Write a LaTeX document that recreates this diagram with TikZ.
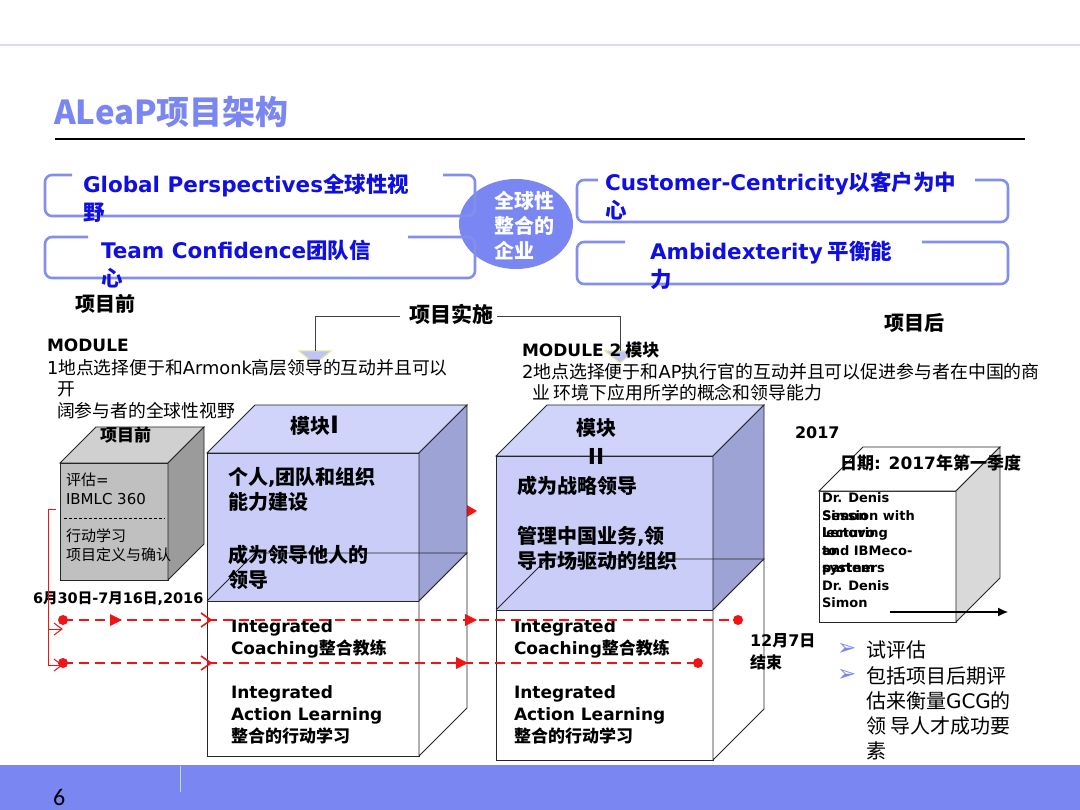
\documentclass[tikz,border=0pt]{standalone}
\usepackage{fontspec}
\setmainfont{Noto Sans CJK SC}
\newfontfamily\latf{DejaVu Sans}
\newfontfamily\pagef{Carlito}
\newcommand\latn[1]{{\latf #1}}
\newcommand\fsz[2]{\fontsize{#1}{#2}\selectfont}
\usetikzlibrary{arrows.meta,shapes.geometric}
\definecolor{peri}{RGB}{122,134,242}
\definecolor{boxline}{RGB}{132,142,236}
\definecolor{txtblue}{RGB}{15,15,225}
\definecolor{topline}{RGB}{218,218,248}
\definecolor{cubefront}{RGB}{201,205,248}
\definecolor{cubetop}{RGB}{208,211,250}
\definecolor{cuberight}{RGB}{158,163,214}
\definecolor{grayfront}{RGB}{192,192,192}
\definecolor{graytop}{RGB}{208,208,208}
\definecolor{grayright}{RGB}{155,155,155}
\definecolor{lgray}{RGB}{217,217,217}
\definecolor{redl}{RGB}{240,20,20}
\definecolor{trifill}{RGB}{190,196,245}
\definecolor{triedge}{RGB}{236,236,150}
\definecolor{barline}{RGB}{205,210,250}
\begin{document}
\begin{tikzpicture}[x=1pt,y=-1pt,
  tx/.style={anchor=north west,align=left,inner sep=0pt,outer sep=0pt},
  bracketbox/.style={draw=boxline,line width=2.6pt,rounded corners=7pt},
  cubeline/.style={draw=black!85,line width=0.8pt},
  conn/.style={draw=black!75,line width=1pt},
  reddash/.style={draw=redl,line width=2pt,dash pattern=on 10pt off 6pt},
  redthin/.style={draw=redl,line width=1pt},
  chev/.style={draw=redl,line width=1.6pt},
  boxtext/.style={tx,text=txtblue,font=\fsz{21.5}{28}\bfseries},
  headtxt/.style={tx,font=\fsz{20}{25}\bfseries},
  cubetxt/.style={tx,font=\fsz{20}{25}\bfseries},
  ialtxt/.style={tx,font=\fsz{17}{22}\bfseries},
]
\path[use as bounding box] (0,0) rectangle (1080,810);
\fill[white] (0,0) rectangle (1080,810);

% header
\draw[draw=topline,line width=2pt] (0,45) -- (1080,45);
\node[tx,anchor=west,text=peri,font=\fsz{33}{36}\bfseries] (title) at (54,112) {ALeaP项目架构};
\coordinate (ul1) at (55,139); \coordinate (ul2) at (1025,139);
\draw[black,line width=1.5pt] (ul1) -- (ul2);

% central ellipse
\node[ellipse,fill=peri,minimum width=114pt,minimum height=90pt,inner sep=0pt] (ell) at (516,224) {};
\node[tx,text=white,font=\fsz{20}{25}\bfseries] (elltxt) at (494,191) {全球性\\整合的\\企业};

% bracket boxes
\draw[bracketbox] (72,175) -- (45,175) -- (45,216) -- (475,216) -- (475,175) -- (443,175);
\draw[bracketbox] (88,237) -- (45,237) -- (45,278) -- (475,278) -- (475,237) -- (408,237);
\draw[bracketbox] (598,180) -- (577,180) -- (577,222) -- (1008,222) -- (1008,180) -- (975,180);
\draw[bracketbox] (625,242) -- (577,242) -- (577,284) -- (1008,284) -- (1008,242) -- (922,242);
\node[boxtext] (gp) at (83,174) {\latn{Global Perspectives}全球性视\\野};
\node[boxtext] (tc) at (101,240) {\latn{Team Confidence}团队信\\心};
\node[boxtext] (cc) at (605,172) {\latn{Customer-Centricity}以客户为中\\心};
\node[boxtext] (ab) at (650,241) {\latn{Ambidexterity} 平衡能\\力};

% phase labels
\node[headtxt] (pre) at (75,294) {项目前};
\node[tx,font=\fsz{21}{25}\bfseries] (impl) at (409,304) {项目实施};
\node[headtxt] (post) at (884,313) {项目后};

% pointer lines and triangles
\coordinate (t1) at (315,351);
\coordinate (t2) at (620,351);
\filldraw[fill=trifill,draw=triedge,line width=1pt] (299,351) -- (331,351) -- (315,364) -- cycle;
\filldraw[fill=trifill,draw=triedge,line width=1pt] (605,351) -- (635,351) -- (620,363) -- cycle;
\draw[conn] ([xshift=-9pt,yshift=-2pt]impl.west) -| (t1);
\draw[conn] ([xshift=4pt,yshift=-2pt]impl.east) -| (t2);

% module descriptions
\node[tx,font=\fsz{17}{22}\bfseries] (m1) at (47,339) {\latn{MODULE}};
\node[tx,font=\fsz{17.8}{21.5}] (m1d) at (47,359) {\latn{1}地点选择便于和\latn{Armonk}高层领导的互动并且可以\\\hspace*{10pt}开\\\hspace*{10pt}阔参与者的全球性视野};
\node[tx,font=\fsz{17}{22}\bfseries] (m2) at (522,342) {\latn{MODULE 2} 模块};
\node[tx,font=\fsz{17.9}{21.5}] (m2d) at (522,363) {\latn{2}地点选择便于和\latn{AP}执行官的互动并且可以促进参与者在中国的商\\\hspace*{10pt}业 环境下应用所学的概念和领导能力};

% red stray arrowhead behind cube 1
\fill[redl] (465,504) -- (477,511) -- (465,518) -- cycle;

% gray cube (pre-program)
\filldraw[cubeline,fill=grayfront] (60,463) rectangle (168,580);
\filldraw[cubeline,fill=graytop] (60,463) -- (96,427) -- (204,427) -- (168,463) -- cycle;
\filldraw[cubeline,fill=grayright] (168,463) -- (204,427) -- (204,544) -- (168,580) -- cycle;
\node[tx,font=\fsz{17}{20}\bfseries] (gtop) at (100,427) {项目前};
\node[tx,font=\fsz{15}{18.5}] (g1) at (66,473) {评估\latn{=}\\\latn{IBMLC 360}};
\draw[black,line width=0.7pt,dash pattern=on 3pt off 2pt] (64,518) -- (165,518);
\node[tx,font=\fsz{15}{18.5}] (g2) at (66,529) {行动学习\\项目定义与确认};
\node[tx,font=\fsz{14.5}{18}\bfseries] (date1) at (33,592) {\latn{6}月\latn{30}日\latn{-7}月\latn{16}日\latn{,2016}};

% cube 1
\filldraw[cubeline,fill=cubefront] (207,453) rectangle (419,601);
\filldraw[cubeline,fill=cubetop] (207,453) -- (255,405) -- (467,405) -- (419,453) -- cycle;
\filldraw[cubeline,fill=cuberight] (419,453) -- (467,405) -- (467,553) -- (419,601) -- cycle;
\filldraw[cubeline,fill=white] (207,601) rectangle (419,756);
\filldraw[cubeline,fill=white] (419,601) -- (467,553) -- (467,708) -- (419,756) -- cycle;
\draw[cubeline] (207,601) -- (255,553) -- (467,553);
\node[tx,font=\fsz{20}{25}\bfseries] (c1t) at (290,416) {模块{\fsz{24}{25}\latn{I}}};
\node[cubetxt] (c1a) at (228,467) {个人\latn{,}团队和组织\\能力建设};
\node[cubetxt] (c1b) at (228,545) {成为领导他人的\\领导};
\node[ialtxt] (c1c) at (231,620) {\latn{Integrated}\\\latn{Coaching}整合教练};
\node[ialtxt] (c1d) at (231,686) {\latn{Integrated}\\\latn{Action Learning}\\整合的行动学习};

% cube 2
\filldraw[cubeline,fill=cubefront] (496,456) rectangle (713,610);
\filldraw[cubeline,fill=cubetop] (496,456) -- (547,405) -- (764,405) -- (713,456) -- cycle;
\filldraw[cubeline,fill=cuberight] (713,456) -- (764,405) -- (764,559) -- (713,610) -- cycle;
\filldraw[cubeline,fill=white] (496,610) rectangle (713,760);
\filldraw[cubeline,fill=white] (713,610) -- (764,559) -- (764,709) -- (713,760) -- cycle;
\draw[cubeline] (496,610) -- (547,559) -- (764,559);
\node[tx,anchor=north,align=center,font=\fsz{20}{29}\bfseries] (c2t) at (596,418) {模块\\{\fsz{22}{29}\latn{II}}};
\node[cubetxt] (c2a) at (517,476) {成为战略领导};
\node[cubetxt] (c2b) at (517,526) {管理中国业务\latn{,}领\\导市场驱动的组织};
\node[ialtxt] (c2c) at (514,620) {\latn{Integrated}\\\latn{Coaching}整合教练};
\node[ialtxt] (c2d) at (514,686) {\latn{Integrated}\\\latn{Action Learning}\\整合的行动学习};

% cube 3 (post-program)
\filldraw[cubeline,fill=white] (819,491) rectangle (956,622);
\filldraw[cubeline,fill=white] (819,491) -- (863,447) -- (1000,447) -- (956,491) -- cycle;
\filldraw[cubeline,fill=lgray] (956,491) -- (1000,447) -- (1000,578) -- (956,622) -- cycle;
\node[tx,font=\fsz{16}{20}\bfseries] (y2017) at (795,427) {\latn{2017}};
\node[tx,font=\fsz{17}{20}\bfseries] (dq) at (840,455) {日期\latn{: 2017}年第一季度};
\node[tx,font=\fsz{13}{17.5}\bfseries\latf] (dsA) at (822,493) {Dr. Denis\\Simon\\lecturing\\to\\system};
\node[tx,font=\fsz{13}{17.5}\bfseries\latf] (dsB) at (822,510.5) {Session with\\Lenovo\\and IBMeco-\\partners\\Dr. Denis\\Simon};
\coordinate (ar1) at (890,612); \coordinate (ar2) at (1008,612);
\draw[black,line width=1.2pt,-{Latex[length=10pt,width=9pt]}] (ar1) -- (ar2);

\node[tx,font=\fsz{16}{22}\bfseries] (end) at (750,634) {\latn{12}月\latn{7}日\\结束};

% bullets
\node[tx,anchor=west,text=peri,font=\fsz{23}{24}\latf] (b1) at (837,649) {➢};
\node[tx,anchor=west,text=peri,font=\fsz{23}{24}\latf] (b2) at (837,675) {➢};
\node[tx,font=\fsz{20}{25}] (bt1) at (866,641) {试评估};
\node[tx,font=\fsz{20}{25}] (bt2) at (866,667) {包括项目后期评\\估来衡量\latn{GCG}的\\领 导人才成功要\\素};

% red timeline
\coordinate (rs) at (56,509);
\coordinate (rv) at (48,509);
\coordinate (ra1) at (62,629);
\coordinate (ra2) at (62,665);
\draw[redthin] (rs) -- (rv) -- (48,665) -- (ra2);
\draw[redthin] (48,629) -- (ra1);
\draw[chev,line width=1pt] (54,623) -- (62,629) -- (54,635);
\draw[chev,line width=1pt] (54,659) -- (62,665) -- (54,671);

\coordinate (d1s) at (63,620); \coordinate (d1e) at (738,620);
\coordinate (d2s) at (63,663); \coordinate (d2e) at (698,663);
\draw[reddash] (d1s) -- (d1e);
\draw[reddash] (d2s) -- (d2e);
\fill[redl] (d1s) circle[radius=5pt];
\fill[redl] (d2s) circle[radius=5pt];
\fill[redl] (d1e) circle[radius=5pt];
\fill[redl] (d2e) circle[radius=5pt];
\fill[redl] (110,614) -- (122,620) -- (110,626) -- cycle;
\fill[redl] (465,614) -- (477,620) -- (465,626) -- cycle;
\fill[redl] (456,657) -- (468,663) -- (456,669) -- cycle;
\draw[chev] (201,613) -- (211,620) -- (201,627);
\draw[chev] (201,656) -- (211,663) -- (201,670);

% footer
\fill[peri] (0,765) rectangle (1080,810);
\draw[draw=barline,line width=1pt] (180,766) -- (180,792);
\node[tx,anchor=west,font=\fsz{24}{26}\pagef] (pg) at (53,797) {6};
\end{tikzpicture}
\end{document}
